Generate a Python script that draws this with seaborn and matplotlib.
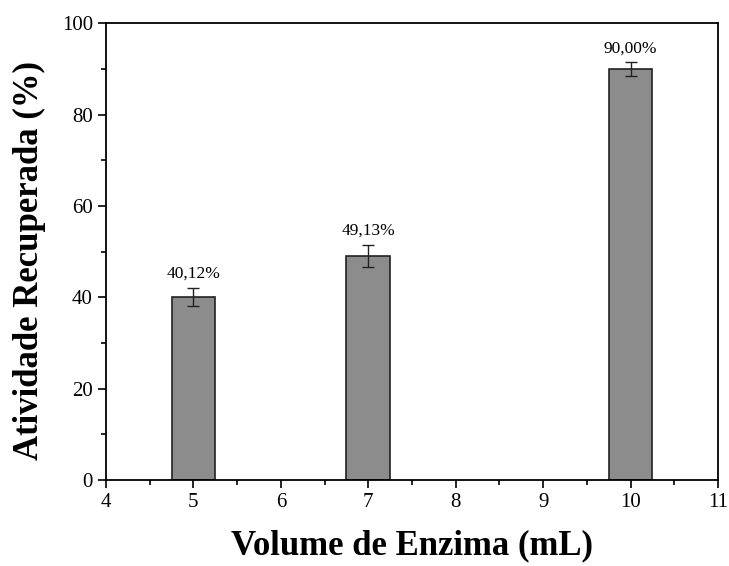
import matplotlib
matplotlib.use("Agg")
import matplotlib.pyplot as plt
import seaborn as sns
import pandas as pd
from matplotlib.ticker import MultipleLocator

volumes = [5, 7, 10]
atividade = [40.12, 49.13, 90.00]
erros = [2.0, 2.4, 1.5]
rotulos = ["40,12%", "49,13%", "90,00%"]

sns.set_style("ticks")
plt.rcParams['font.family'] = ['Liberation Serif', 'DejaVu Serif']
plt.rcParams['text.color'] = 'black'
plt.rcParams['axes.labelcolor'] = 'black'

df = pd.DataFrame({"vol": volumes, "ativ": atividade})

fig = plt.figure(figsize=(7.29, 5.66), dpi=100)
ax = fig.add_axes([0.1454, 0.152, 0.8396, 0.807])

sns.barplot(data=df, x="vol", y="ativ", native_scale=True, width=0.25,
            color="#8c8c8c", saturation=1, edgecolor="#222222", linewidth=1.2,
            errorbar=None, ax=ax)
ax.errorbar(volumes, atividade, yerr=erros, fmt="none", ecolor="#222222",
            elinewidth=1.0, capsize=4, capthick=1.0)
for x, y, e, t in zip(volumes, atividade, erros, rotulos):
    ax.text(x, y + e + 1.2, t, ha="center", va="bottom", fontsize=12.5, color="black")

ax.set_xlim(4, 11)
ax.set_ylim(0, 100)
ax.xaxis.set_major_locator(MultipleLocator(1))
ax.xaxis.set_minor_locator(MultipleLocator(0.5))
ax.yaxis.set_major_locator(MultipleLocator(20))
ax.yaxis.set_minor_locator(MultipleLocator(10))
ax.tick_params(which="major", direction="out", length=6, width=1.2, labelsize=15,
               colors="black", top=False, right=False)
ax.tick_params(which="minor", direction="out", length=3.5, width=1.2,
               colors="black", top=False, right=False)
for s in ax.spines.values():
    s.set_visible(True)
    s.set_linewidth(1.3)
    s.set_color("black")

ax.set_xlabel("Volume de Enzima (mL)", fontsize=25, fontweight="bold", labelpad=12)
ax.set_ylabel("Atividade Recuperada (%)", fontsize=25, fontweight="bold", labelpad=10)
ax.yaxis.set_label_coords(-0.098, 0.48)

fig.savefig("out.png", dpi=100)
